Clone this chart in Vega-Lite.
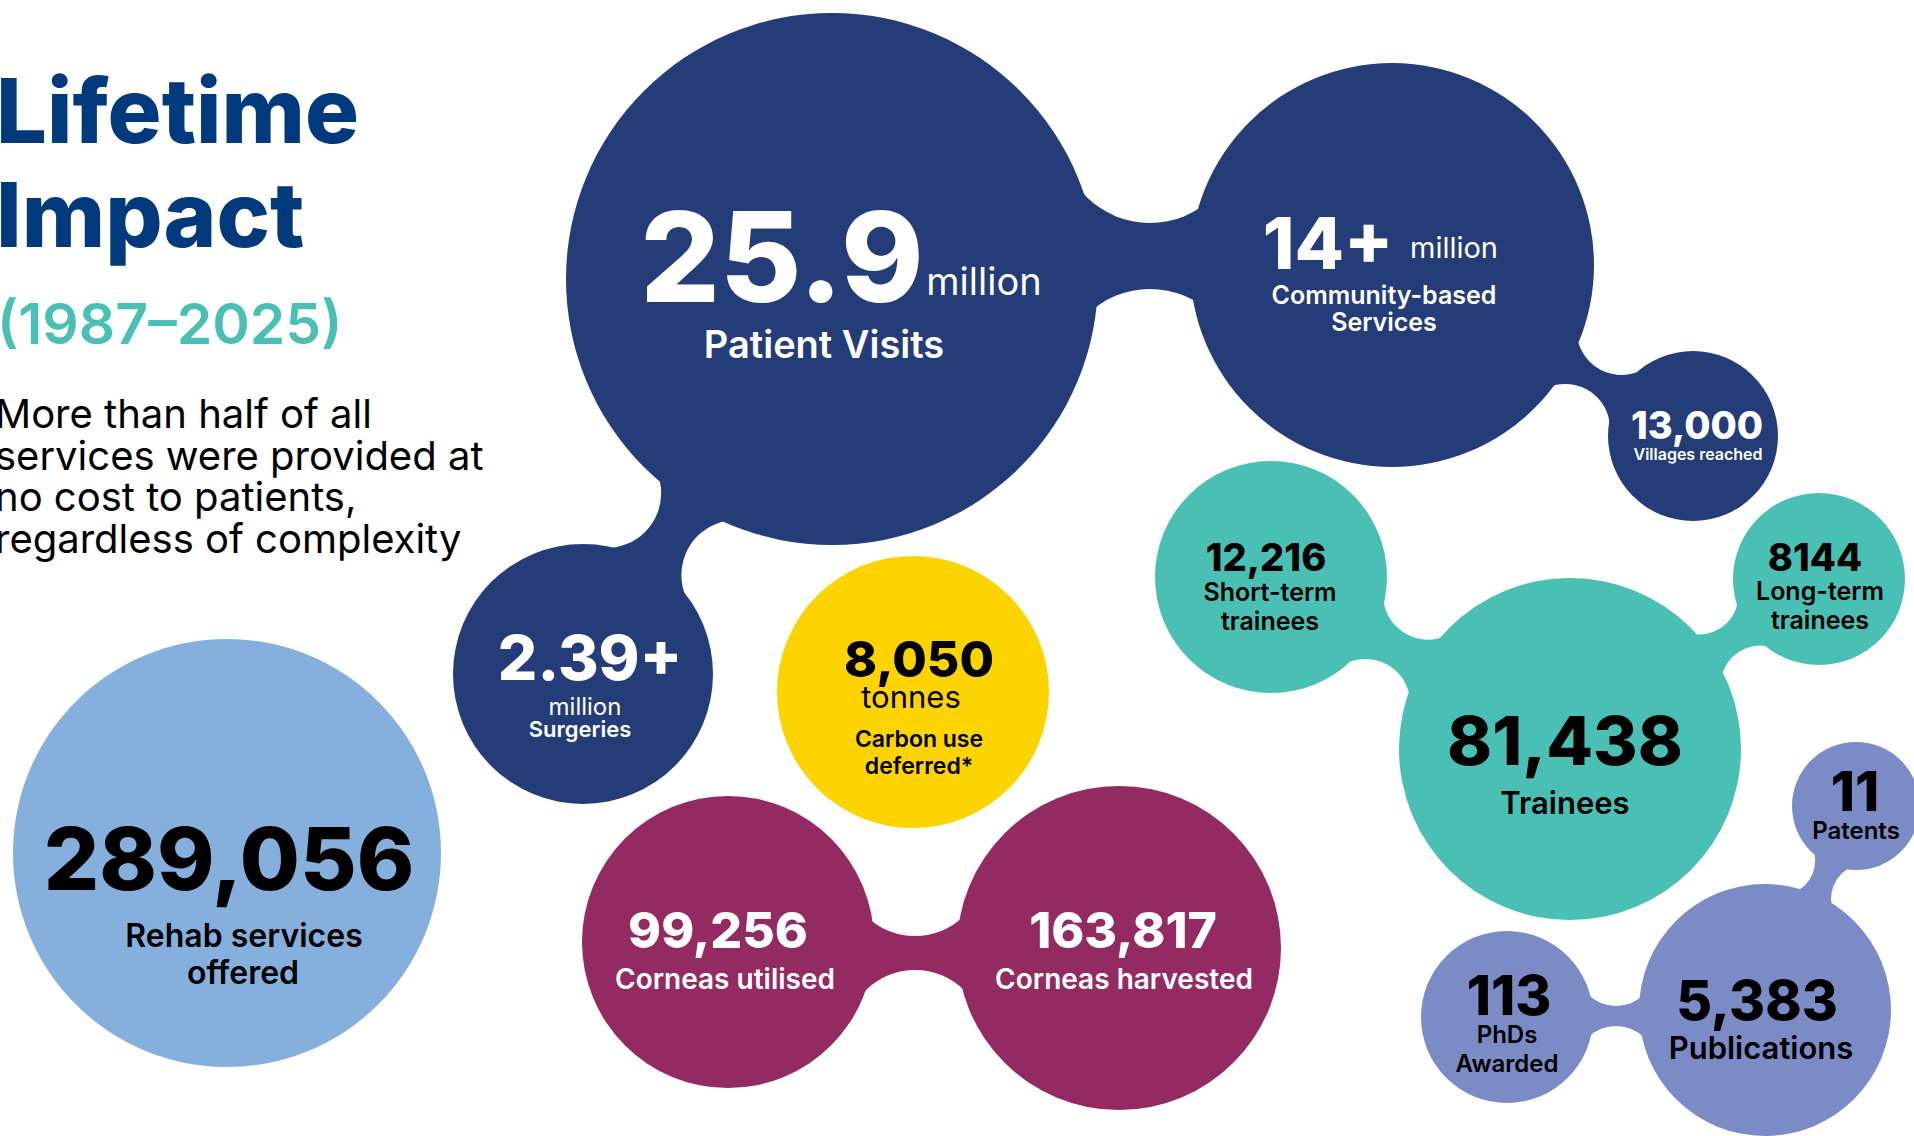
{
  "$schema": "https://vega.github.io/schema/vega-lite/v6.json",
  "width": 1914,
  "height": 1136,
  "autosize": {"type": "none"},
  "padding": 0,
  "background": "white",
  "config": {"view": {"stroke": null}, "text": {"font": "Inter"}},
  "datasets": {
    "bubbles": [
      {"id": "Patient Visits", "group": "pv", "x": 832, "y": 279, "r": 266},
      {"id": "Community-based Services", "group": "pv", "x": 1392, "y": 265, "r": 202},
      {"id": "Villages reached", "group": "pv", "x": 1693, "y": 436, "r": 85},
      {"id": "Surgeries", "group": "pv", "x": 583, "y": 674, "r": 130},
      {"id": "Carbon use deferred", "group": "carbon", "x": 913, "y": 692, "r": 136},
      {"id": "Rehab services offered", "group": "rehab", "x": 227, "y": 853, "r": 214},
      {"id": "Corneas utilised", "group": "cornea", "x": 728, "y": 942, "r": 146},
      {"id": "Corneas harvested", "group": "cornea", "x": 1119, "y": 948, "r": 162},
      {"id": "Short-term trainees", "group": "train", "x": 1271, "y": 577, "r": 116},
      {"id": "Long-term trainees", "group": "train", "x": 1819, "y": 579, "r": 86},
      {"id": "Trainees", "group": "train", "x": 1570, "y": 749, "r": 171},
      {"id": "Patents", "group": "research", "x": 1856, "y": 806, "r": 64},
      {"id": "Publications", "group": "research", "x": 1765, "y": 1010, "r": 126},
      {"id": "PhDs Awarded", "group": "research", "x": 1507, "y": 1017, "r": 86}
    ],
    "links": [
      {"group": "pv", "x": 900, "y": 256, "x2": 1330, "y2": 256, "band": 166},
      {"group": "pv", "x": 832, "y": 279, "x2": 583, "y2": 674, "band": 100},
      {"group": "pv", "x": 1392, "y": 265, "x2": 1693, "y2": 436, "band": 68},
      {"group": "train", "x": 1271, "y": 577, "x2": 1570, "y2": 749, "band": 80},
      {"group": "train", "x": 1570, "y": 749, "x2": 1819, "y2": 579, "band": 70},
      {"group": "cornea", "x": 728, "y": 953, "x2": 1119, "y2": 953, "band": 104},
      {"group": "research", "x": 1507, "y": 1016, "x2": 1765, "y2": 1016, "band": 60},
      {"group": "research", "x": 1856, "y": 806, "x2": 1765, "y2": 1010, "band": 58}
    ],
    "hollows": [
      {"x": 1150, "y": 133, "r": 90},
      {"x": 1150, "y": 379, "r": 90},
      {"x": 736.4, "y": 575, "r": 55},
      {"x": 606.2, "y": 493, "r": 55},
      {"x": 1565.1, "y": 428.9, "r": 45},
      {"x": 1621.5, "y": 329.9, "r": 45},
      {"x": 1365.3, "y": 703.9, "r": 45},
      {"x": 1428.1, "y": 594.7, "r": 45},
      {"x": 1760.6, "y": 685.4, "r": 40},
      {"x": 1698.6, "y": 594.6, "r": 40},
      {"x": 915, "y": 1040, "r": 70},
      {"x": 915, "y": 866, "r": 70},
      {"x": 1616, "y": 1066, "r": 40},
      {"x": 1616, "y": 966, "r": 40},
      {"x": 1866, "y": 898.8, "r": 35},
      {"x": 1780.2, "y": 860.6, "r": 35}
    ],
    "numbers": [
      {"t": "25.9", "x": 782, "y": 302, "tier": "n1", "group": "pv"},
      {"t": "14+", "x": 1328, "y": 269, "tier": "n3", "group": "pv"},
      {"t": "13,000", "x": 1697, "y": 439, "tier": "n6", "group": "pv"},
      {"t": "2.39+", "x": 590, "y": 680, "tier": "n4", "group": "pv"},
      {"t": "8,050", "x": 919, "y": 677, "tier": "n5", "group": "carbon"},
      {"t": "289,056", "x": 229, "y": 890, "tier": "n2", "group": "rehab"},
      {"t": "99,256", "x": 718, "y": 948, "tier": "n5c", "group": "cornea"},
      {"t": "163,817", "x": 1123, "y": 948, "tier": "n5c", "group": "cornea"},
      {"t": "12,216", "x": 1266, "y": 571, "tier": "n6", "group": "train"},
      {"t": "8144", "x": 1815, "y": 571, "tier": "n6", "group": "train"},
      {"t": "81,438", "x": 1565, "y": 765, "tier": "n3b", "group": "train"},
      {"t": "11", "x": 1855, "y": 811, "tier": "n5b", "group": "research"},
      {"t": "5,383", "x": 1757, "y": 1020, "tier": "n5b", "group": "research"},
      {"t": "113", "x": 1509, "y": 1015, "tier": "n5b", "group": "research"}
    ],
    "labels": [
      {"t": "Patient Visits", "x": 824, "y": 358, "tier": "l1", "group": "pv"},
      {"t": "Community-based", "x": 1384, "y": 304, "tier": "l3", "group": "pv"},
      {"t": "Services", "x": 1384, "y": 331, "tier": "l3", "group": "pv"},
      {"t": "Villages reached", "x": 1698, "y": 460, "tier": "l5", "group": "pv"},
      {"t": "Surgeries", "x": 580, "y": 737, "tier": "l4", "group": "pv"},
      {"t": "Carbon use", "x": 919, "y": 747, "tier": "l4c", "group": "carbon"},
      {"t": "deferred*", "x": 919, "y": 774, "tier": "l4c", "group": "carbon"},
      {"t": "Rehab services", "x": 244, "y": 947, "tier": "l2r", "group": "rehab"},
      {"t": "offered", "x": 243, "y": 984, "tier": "l2r", "group": "rehab"},
      {"t": "Corneas utilised", "x": 725, "y": 989, "tier": "l2b", "group": "cornea"},
      {"t": "Corneas harvested", "x": 1124, "y": 989, "tier": "l2b", "group": "cornea"},
      {"t": "Short-term", "x": 1270, "y": 601, "tier": "l3", "group": "train"},
      {"t": "trainees", "x": 1270, "y": 630, "tier": "l3", "group": "train"},
      {"t": "Long-term", "x": 1820, "y": 600, "tier": "l3", "group": "train"},
      {"t": "trainees", "x": 1820, "y": 629, "tier": "l3", "group": "train"},
      {"t": "Trainees", "x": 1565, "y": 814, "tier": "l2", "group": "train"},
      {"t": "Patents", "x": 1856, "y": 839, "tier": "l4b", "group": "research"},
      {"t": "Publications", "x": 1761, "y": 1059, "tier": "l2", "group": "research"},
      {"t": "PhDs", "x": 1507, "y": 1043, "tier": "l4b", "group": "research"},
      {"t": "Awarded", "x": 1507, "y": 1072, "tier": "l4b", "group": "research"}
    ],
    "units": [
      {"t": "million", "x": 984, "y": 295, "tier": "u1", "group": "pv"},
      {"t": "million", "x": 1454, "y": 258, "tier": "u3", "group": "pv"},
      {"t": "million", "x": 585, "y": 715, "tier": "u4", "group": "pv"},
      {"t": "tonnes", "x": 911, "y": 708, "tier": "u2", "group": "carbon"}
    ],
    "title": [
      {"t": "Lifetime", "x": -4, "y": 143},
      {"t": "Impact", "x": -4, "y": 247}
    ],
    "years": [
      {"t": "(1987–2025)", "x": -3, "y": 344}
    ],
    "note": [
      {"t": "More than half of all", "x": -5, "y": 428},
      {"t": "services were provided at", "x": -5, "y": 470},
      {"t": "no cost to patients,", "x": -5, "y": 511},
      {"t": "regardless of complexity", "x": -5, "y": 553}
    ]
  },
  "encoding": {
    "x": {"field": "x", "type": "quantitative", "scale": {"domain": [0, 1914], "range": [0, 1914], "nice": false, "zero": false}, "axis": null},
    "y": {"field": "y", "type": "quantitative", "scale": {"domain": [0, 1136], "range": [0, 1136], "nice": false, "zero": false}, "axis": null}
  },
  "layer": [
    {
      "data": {"name": "links"},
      "mark": {"type": "rule", "strokeCap": "butt"},
      "encoding": {
        "x2": {"field": "x2"},
        "y2": {"field": "y2"},
        "strokeWidth": {"field": "band", "type": "quantitative", "scale": {"type": "linear", "domain": [0, 200], "range": [0, 200]}, "legend": null},
        "color": {"field": "group", "type": "nominal", "scale": {"domain": ["pv", "rehab", "carbon", "cornea", "train", "research"], "range": ["#243c78", "#85b0de", "#fdd300", "#932a62", "#4abfb3", "#7a8bc5"]}, "legend": null}
      }
    },
    {
      "data": {"name": "hollows"},
      "mark": {"type": "point", "shape": "circle", "filled": true, "opacity": 1, "strokeWidth": 0, "color": "#ffffff"},
      "encoding": {
        "size": {"field": "r", "type": "quantitative", "scale": {"type": "pow", "exponent": 2, "domain": [0, 300], "range": [0, 360000]}, "legend": null}
      }
    },
    {
      "data": {"name": "bubbles"},
      "mark": {"type": "point", "shape": "circle", "filled": true, "opacity": 1, "strokeWidth": 0},
      "encoding": {
        "size": {"field": "r", "type": "quantitative", "scale": {"type": "pow", "exponent": 2, "domain": [0, 300], "range": [0, 360000]}, "legend": null},
        "color": {"field": "group", "type": "nominal", "scale": {"domain": ["pv", "rehab", "carbon", "cornea", "train", "research"], "range": ["#243c78", "#85b0de", "#fdd300", "#932a62", "#4abfb3", "#7a8bc5"]}, "legend": null}
      }
    },
    {
      "data": {"name": "numbers"},
      "mark": {"type": "text", "fontWeight": 800, "align": "center", "baseline": "alphabetic"},
      "encoding": {
        "text": {"field": "t"},
        "size": {"field": "tier", "type": "ordinal", "scale": {"type": "ordinal", "domain": ["n1", "n2", "n3", "n3b", "n4", "n5", "n5b", "n5c", "n6"], "range": [125, 87, 72, 68, 62, 50, 55, 50, 38]}, "legend": null},
        "color": {"field": "group", "type": "nominal", "scale": {"domain": ["pv", "rehab", "carbon", "cornea", "train", "research"], "range": ["#ffffff", "#000000", "#000000", "#ffffff", "#000000", "#000000"]}, "legend": null}
      }
    },
    {
      "data": {"name": "labels"},
      "mark": {"type": "text", "fontWeight": 600, "align": "center", "baseline": "alphabetic"},
      "encoding": {
        "text": {"field": "t"},
        "size": {"field": "tier", "type": "ordinal", "scale": {"type": "ordinal", "domain": ["l1", "l2", "l2r", "l2b", "l3", "l4", "l4b", "l4c", "l5"], "range": [38, 31, 32, 28, 25, 22, 24, 23, 16]}, "legend": null},
        "color": {"field": "group", "type": "nominal", "scale": {"domain": ["pv", "rehab", "carbon", "cornea", "train", "research"], "range": ["#ffffff", "#000000", "#000000", "#ffffff", "#000000", "#000000"]}, "legend": null}
      }
    },
    {
      "data": {"name": "units"},
      "mark": {"type": "text", "fontWeight": 400, "align": "center", "baseline": "alphabetic"},
      "encoding": {
        "text": {"field": "t"},
        "size": {"field": "tier", "type": "ordinal", "scale": {"type": "ordinal", "domain": ["u1", "u2", "u3", "u4"], "range": [38, 31, 29, 24]}, "legend": null},
        "color": {"field": "group", "type": "nominal", "scale": {"domain": ["pv", "rehab", "carbon", "cornea", "train", "research"], "range": ["#ffffff", "#000000", "#000000", "#ffffff", "#000000", "#000000"]}, "legend": null}
      }
    },
    {
      "data": {"name": "title"},
      "mark": {"type": "text", "fontWeight": 800, "fontSize": 90, "align": "left", "baseline": "alphabetic", "color": "#003a7d"},
      "encoding": {"text": {"field": "t"}}
    },
    {
      "data": {"name": "years"},
      "mark": {"type": "text", "fontWeight": 600, "fontSize": 57, "align": "left", "baseline": "alphabetic", "color": "#4abfb3"},
      "encoding": {"text": {"field": "t"}}
    },
    {
      "data": {"name": "note"},
      "mark": {"type": "text", "fontWeight": 400, "fontSize": 40, "align": "left", "baseline": "alphabetic", "color": "#000000"},
      "encoding": {"text": {"field": "t"}}
    }
  ],
  "resolve": {"scale": {"color": "independent", "size": "independent"}}
}
